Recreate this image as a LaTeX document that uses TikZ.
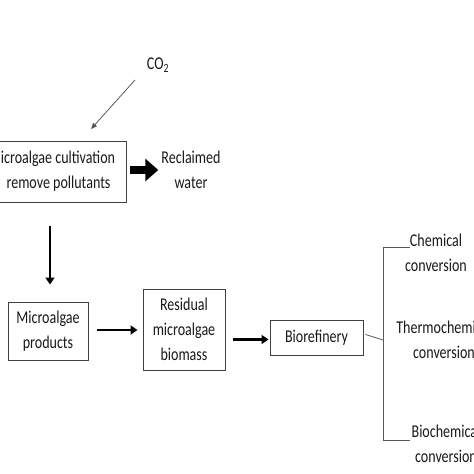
\documentclass[tikz,border=0pt]{standalone}
\usepackage{fontspec}
\setmainfont{Carlito}[FakeStretch=0.78]
\usetikzlibrary{arrows.meta}
\begin{document}
\begin{tikzpicture}[x=1pt,y=-1pt,
  txt/.style={align=center,inner sep=0pt,font=\fontsize{18}{25}\selectfont,text=black!90},
  box/.style={txt,draw=black!75,line width=1pt},
  arr/.style={line width=2.4pt,draw=black,-{Triangle[length=7pt,width=9pt]}},
  thinline/.style={line width=0.8pt,draw=black!65},
]
\useasboundingbox (0,0) rectangle (474,474);
% nodes
\node[txt] (co2) at (158,65) {CO\textsubscript{2}};
\node[box,minimum width=148pt,minimum height=61pt] (cult) at (52,171.5) {Microalgae cultivation\\\hspace{13pt}remove pollutants};
\node[txt] (recl) at (191,170) {Reclaimed\\water};
\node[box,minimum width=80pt,minimum height=58pt] (prod) at (48,331) {Microalgae\\products};
\node[box,minimum width=82pt,minimum height=81pt] (resid) at (184,329.5) {Residual\\microalgae\\biomass};
\node[box,minimum width=93pt,minimum height=35pt] (bio) at (316.5,337.5) {Biorefinery};
\node[txt] (chem) at (436,252.5) {Chemical\\conversion};
\node[txt] (thermo) at (444,339.5) {Thermochemical\\conversion};
\node[txt] (bioc) at (446,444) {Biochemical\\conversion};
% CO2 arrow
\coordinate (co2s) at (135,80);
\coordinate (co2e) at (91,129);
\draw[thinline,-{Triangle[length=6pt,width=5pt]}] (co2s) -- (co2e);
% fat arrow to reclaimed water
\draw[line width=8pt,draw=black,-{Triangle[length=13pt,width=22pt]}] ([xshift=3pt]cult.east |- recl.west) -- ([xshift=-3pt]recl.west);
% down arrow
\draw[arr,shorten <=23pt,shorten >=17pt] ([xshift=-2pt]cult.south) -- ([xshift=2pt]prod.north);
% horizontal arrows
\draw[arr,shorten <=8pt,shorten >=5pt] ([yshift=1pt]prod.east) -- ([yshift=1pt]prod.east -| resid.west);
\draw[arr,shorten <=7pt,shorten >=1pt] ([yshift=-2pt]bio.west -| resid.east) -- ([yshift=-2pt]bio.west);
% bracket
\coordinate (bj) at (383,340);
\coordinate (bt) at (383,247);
\coordinate (bb) at (383,440);
\draw[thinline] ([xshift=2pt,yshift=3pt]bio.east) -- (bj);
\draw[thinline] (410,247) -- (bt) -- (bb) -- (410,440);
\end{tikzpicture}
\end{document}
